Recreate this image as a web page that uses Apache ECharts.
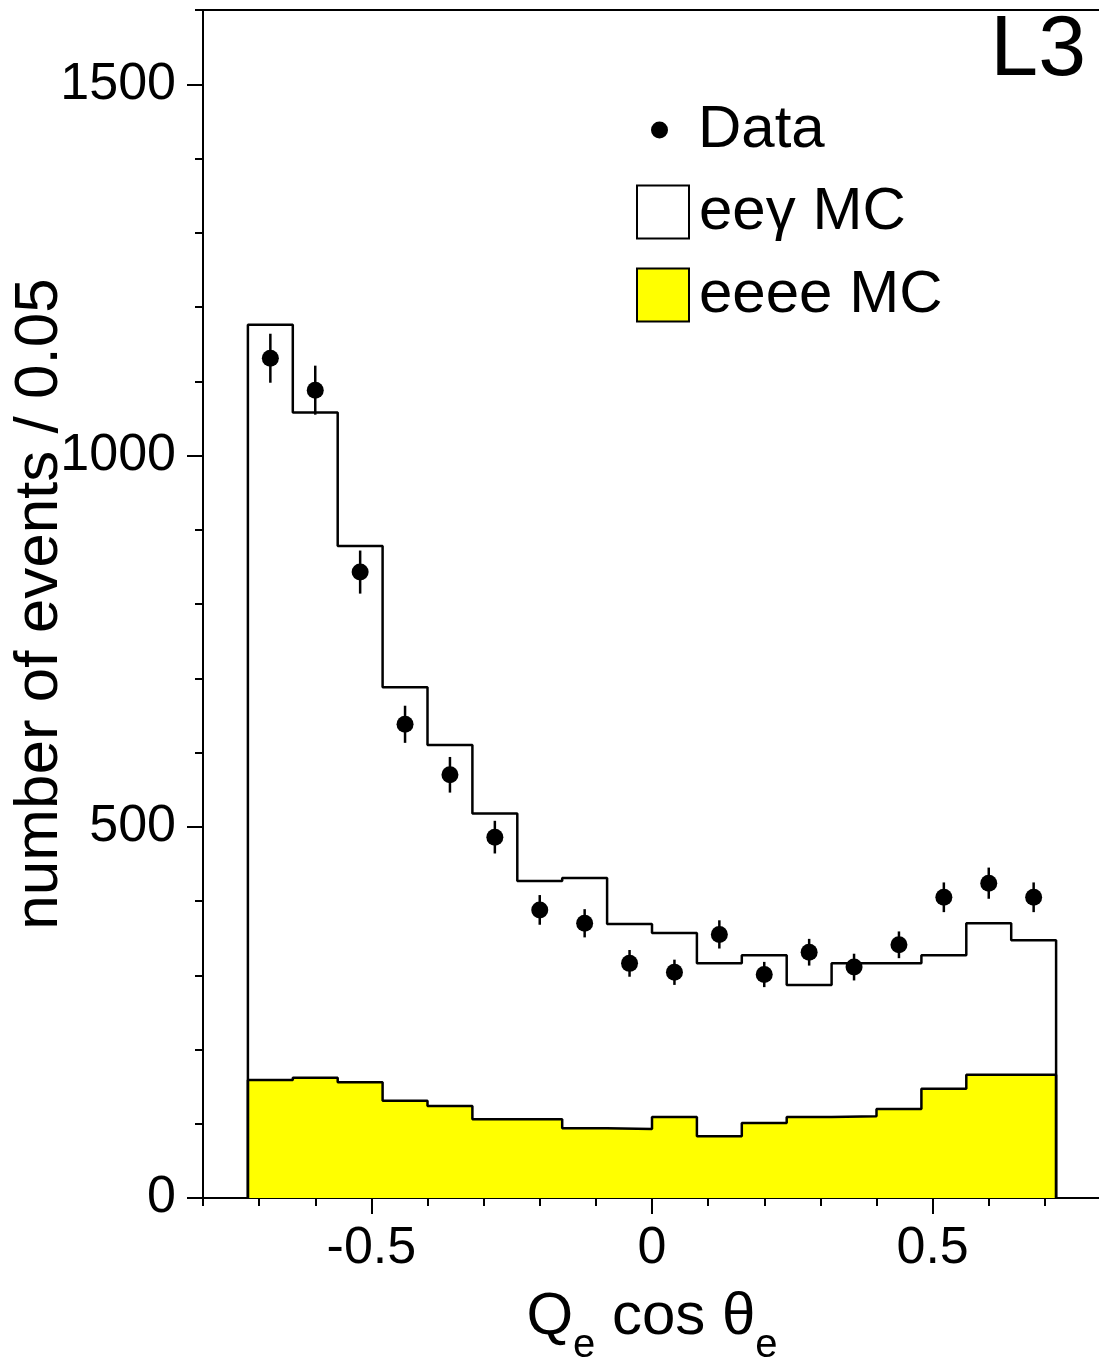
<!DOCTYPE html>
<html>
<head>
<meta charset="utf-8">
<script src="https://cdn.jsdelivr.net/npm/echarts@6/dist/echarts.min.js"></script>
<style>
html,body{margin:0;padding:0;background:#fff;}
#chart{width:1099px;height:1361px;}
</style>
</head>
<body>
<div id="chart"></div>
<script>
// Bin edges of the histograms (Q_e cos theta_e)
var binEdges = [-0.72, -0.64, -0.56, -0.48, -0.40, -0.32, -0.24, -0.16, -0.08, 0.00,
                0.08, 0.16, 0.24, 0.32, 0.40, 0.48, 0.56, 0.64, 0.72];
// Bin centres (data points)
var binCenters = [-0.68, -0.60, -0.52, -0.44, -0.36, -0.28, -0.20, -0.12, -0.04,
                  0.04, 0.12, 0.20, 0.28, 0.36, 0.44, 0.52, 0.60, 0.68];
// ee gamma MC (total, outline)
var eegMC = [1176, 1058, 878, 688, 610, 518, 427, 431, 369, 357, 316, 327, 287, 316, 316, 327, 370, 347];
// eeee MC (yellow)
var eeeeMC = [159, 162, 156, 131, 124, 106, 106, 94, 93, 109, 83, 101, 109, 110, 120, 147, 166, 166];
// Data points and their errors
var dataVals = [1131, 1088, 843, 638, 570, 486, 388, 370, 316, 304, 355, 301, 331, 311, 341, 405, 424, 405];
var dataErr  = [33, 33, 29, 25, 24, 22, 20, 19, 18, 17, 19, 17, 18, 18, 18, 20, 21, 20];
// Tick labels
var xMajorTicks = [-0.5, 0, 0.5];
var yMajorTicks = [0, 500, 1000, 1500];

var FONT = "'Liberation Sans', Arial, Helvetica, sans-serif";

function stepPoints(values) {
  var pts = [[binEdges[0], 0]];
  for (var i = 0; i < values.length; i++) pts.push([binEdges[i], values[i]]);
  pts.push([binEdges[binEdges.length - 1], values[values.length - 1]]);
  pts.push([binEdges[binEdges.length - 1], 0]);
  return pts;
}

var scatterData = binCenters.map(function (c, i) { return [c, dataVals[i]]; });
var errData = binCenters.map(function (c, i) { return [c, dataVals[i] - dataErr[i], dataVals[i] + dataErr[i]]; });

var legendText = {fontFamily: FONT, fontSize: 60, lineHeight: 60, color: '#000', padding: [0, 0, 0, 5]};

var chart = echarts.init(document.getElementById('chart'), null, {renderer: 'canvas'});
var option = {
  animation: false,
  backgroundColor: '#fff',
  textStyle: {fontFamily: FONT, color: '#000'},
  title: {
    text: 'L3', right: 13, top: 8, padding: 0,
    textStyle: {fontFamily: FONT, fontSize: 86, fontWeight: 'normal', color: '#000', lineHeight: 86}
  },
  legend: [
    {
      data: [{name: 'Data', icon: 'circle', itemStyle: {color: '#000', borderWidth: 0, opacity: 1}}],
      left: 651, top: 100, padding: 0, itemWidth: 57, itemHeight: 17,
      selectedMode: false,
      textStyle: legendText
    },
    {
      data: [{name: 'eeγ MC', icon: 'rect', itemStyle: {color: '#fff', borderColor: '#000', borderWidth: 2}}],
      left: 636, top: 182, padding: 0, itemWidth: 52, itemHeight: 53,
      selectedMode: false,
      textStyle: legendText
    },
    {
      data: [{name: 'eeee MC', icon: 'rect', itemStyle: {color: '#ffff00', borderColor: '#000', borderWidth: 2}}],
      left: 636, top: 265, padding: 0, itemWidth: 52, itemHeight: 53,
      selectedMode: false,
      textStyle: legendText
    }
  ],
  grid: {left: 203, top: 10, width: 898, height: 1188, containLabel: false, outerBoundsMode: 'none'},
  xAxis: [
    {
      type: 'value', position: 'bottom', min: -0.8, max: 0.8, interval: 0.1,
      name: '{m|Q}{s|e}{m| cos θ}{s|e}',
      nameLocation: 'middle', nameGap: 89, nameMoveOverlap: false,
      nameTextStyle: {
        fontFamily: FONT, color: '#000',
        rich: {
          m: {fontFamily: FONT, fontSize: 60, lineHeight: 60, verticalAlign: 'top', color: '#000'},
          s: {fontFamily: FONT, fontSize: 40, lineHeight: 118, color: '#000'}
        }
      },
      splitLine: {show: false},
      axisLine: {show: true, onZero: false, lineStyle: {color: '#000', width: 2}},
      axisTick: {show: true, inside: false, length: 8, lineStyle: {color: '#000', width: 2}},
      axisLabel: {
        show: true, customValues: xMajorTicks, margin: 25,
        fontFamily: FONT, fontSize: 52, color: '#000',
        formatter: function (v) { return v === 0 ? '0' : String(v); }
      }
    },
    {
      type: 'value', position: 'bottom', min: -0.8, max: 0.8, interval: 0.1,
      splitLine: {show: false},
      axisLine: {show: false, onZero: false},
      axisTick: {show: true, customValues: xMajorTicks, length: 16, lineStyle: {color: '#000', width: 2}},
      axisLabel: {show: false}
    },
    {
      type: 'value', position: 'top', min: -0.8, max: 0.8, interval: 0.1,
      splitLine: {show: false},
      axisLine: {show: true, onZero: false, lineStyle: {color: '#000', width: 2}},
      axisTick: {show: false},
      axisLabel: {show: false}
    }
  ],
  yAxis: [
    {
      type: 'value', position: 'left', min: 0, max: 1600, interval: 100,
      name: 'number of events / 0.05',
      nameLocation: 'middle', nameGap: 132, nameMoveOverlap: false,
      nameTextStyle: {fontFamily: FONT, fontSize: 62, color: '#000'},
      splitLine: {show: false},
      axisLine: {show: true, onZero: false, lineStyle: {color: '#000', width: 2}},
      axisTick: {show: true, inside: false, length: 8, lineStyle: {color: '#000', width: 2}},
      axisLabel: {
        show: true, customValues: yMajorTicks, margin: 27,
        fontFamily: FONT, fontSize: 52, color: '#000',
        formatter: function (v) { return String(v); }
      }
    },
    {
      type: 'value', position: 'left', min: 0, max: 1600, interval: 100,
      splitLine: {show: false},
      axisLine: {show: false, onZero: false},
      axisTick: {show: true, customValues: yMajorTicks, length: 16, lineStyle: {color: '#000', width: 2}},
      axisLabel: {show: false}
    }
  ],
  series: [
    {
      name: 'eeee MC', type: 'line', xAxisIndex: 0, yAxisIndex: 0,
      step: 'end', symbol: 'none', data: stepPoints(eeeeMC),
      lineStyle: {color: '#000', width: 2.5},
      itemStyle: {color: '#ffff00'},
      areaStyle: {color: '#ffff00', opacity: 1},
      z: 2
    },
    {
      name: 'eeγ MC', type: 'line', xAxisIndex: 0, yAxisIndex: 0,
      step: 'end', symbol: 'none', data: stepPoints(eegMC),
      lineStyle: {color: '#000', width: 2.5},
      itemStyle: {color: '#fff'},
      z: 3
    },
    {
      name: 'Data error', type: 'custom', xAxisIndex: 0, yAxisIndex: 0,
      data: errData,
      encode: {x: 0, y: [1, 2]},
      renderItem: function (params, api) {
        var x = api.value(0);
        var p1 = api.coord([x, api.value(1)]);
        var p2 = api.coord([x, api.value(2)]);
        return {
          type: 'line',
          shape: {x1: p1[0], y1: p1[1], x2: p2[0], y2: p2[1]},
          style: {stroke: '#000', lineWidth: 2.5}
        };
      },
      z: 4
    },
    {
      name: 'Data', type: 'scatter', xAxisIndex: 0, yAxisIndex: 0,
      data: scatterData, symbol: 'circle', symbolSize: 17,
      itemStyle: {color: '#000', opacity: 1},
      z: 5
    }
  ]
};
chart.setOption(option);
</script>
</body>
</html>
